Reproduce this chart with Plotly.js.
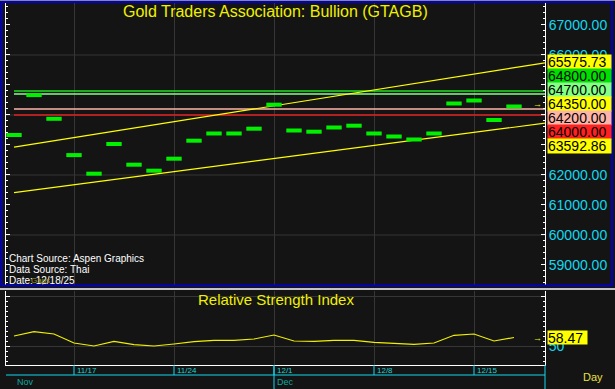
<!DOCTYPE html>
<html><head><meta charset="utf-8">
<script src="https://cdn.plot.ly/plotly-3.0.1.min.js"></script>
<style>html,body{margin:0;padding:0;background:#141414;}#chart{width:615px;height:389px;}</style>
</head><body><div id="chart"></div>
<script>
// ---- data ----
const dates = ['11/12','11/13','11/14','11/17','11/18','11/19','11/20','11/21','11/24','11/25','11/26','11/27','11/28',
               '12/1','12/2','12/3','12/4','12/5','12/8','12/9','12/10','12/11','12/12','12/15','12/16','12/17'];
const closes = [63400,64730,63940,62730,62110,63100,62410,62210,62610,63210,63450,63450,63610,
                64410,63550,63510,63650,63710,63450,63350,63250,63450,64450,64550,63900,64350];
const rsi = [60,64.3,62,53,50,54.7,51.3,50,52,54.3,55.7,55.7,57,
             61,55,54.7,55.7,55.7,53.7,52.7,51.7,53,60.7,62,55,58.47];
const levels = [64800, 64700, 64200, 64000];
const levelColors = ['#22e022','#86ff86','#ffb4a8','#e02020'];
const levelBg = ['#00e000','#86ff86','#ffb4a8','#ff2020'];
const upperTrend = [62930, 65575.73];   // value at first bar, value at last bar
const lowerTrend = [61415, 63592.86];
const priceGrid = [60000, 62000, 64000, 66000];
const weekTicks = ['11/17','11/24','12/1','12/8','12/15'];
const monthLabels = ['Nov','Dec'];
const monthFirst = ['11/12','12/1'];
const title = 'Gold Traders Association: Bullion (GTAGB)';
const rsiTitle = 'Relative Strength Index';
const sourceLines = ['Chart Source: Aspen Graphics','Data Source: Thai','Date: 12/18/25'];

// ---- layout geometry ----
const W = 615, H = 389, M = {l:6, r:70, t:3, b:24};
const plotW = W - M.l - M.r, plotH = H - M.t - M.b;
const px = x => (x - M.l) / plotW;
const py = y => (H - M.b - y) / plotH;
const xr = [-0.4, 26.55];
const yTopRange = [58333, 67733];
const yRsiRange = [31, 105];
const topDom = [py(285), 1];
const botDom = [0, py(291)];
const unitsPerPx = (yTopRange[1] - yTopRange[0]) / ((topDom[1] - topDom[0]) * plotH);
const barHalf = 2 * unitsPerPx;

const idx = dates.map((d, i) => i);
const lastI = dates.length - 1;
const close = closes[lastI];
const xEnd = xr[1];
const FONT = 'Liberation Sans, Arial, sans-serif';
const CYAN = '#10d8f0';
const YEL = '#f0f000';

const traces = [];
levels.forEach((lv, k) => {
  traces.push({x:[0, xEnd], y:[lv, lv], mode:'lines', line:{color:levelColors[k], width: k === 2 ? 1.6 : 1.3},
    xaxis:'x', yaxis:'y', hoverinfo:'skip'});
});
[upperTrend, lowerTrend].forEach(t => {
  const ext = t[0] + (t[1] - t[0]) * (xEnd / lastI);
  traces.push({x:[0, lastI, xEnd], y:[t[0], t[1], ext], mode:'lines', line:{color:'#ffff00', width:1.2},
    xaxis:'x', yaxis:'y', hoverinfo:'skip'});
});
traces.push({x: idx, y: closes.map(c => c - barHalf), mode:'markers',
  marker:{symbol:'line-ew', size:11, color:'#00f000', line:{color:'#00f000', width:4}},
  xaxis:'x', yaxis:'y'});
traces.push({x: idx, y: rsi, mode:'lines', line:{color:YEL, width:1.2}, xaxis:'x', yaxis:'y2'});

const shapes = [];
priceGrid.forEach(g => shapes.push({type:'line', xref:'paper', yref:'y', x0:0, x1:1, y0:g, y1:g,
  line:{color:'#363636', width:1}, layer:'below'}));
// frame / separators
shapes.push({type:'rect', xref:'paper', yref:'paper', x0:px(1.5), x1:px(612), y0:py(285.5), y1:py(2),
  line:{color:'#0000c8', width:2}});
shapes.push({type:'line', xref:'paper', yref:'paper', x0:px(0), x1:px(615), y0:py(0.5), y1:py(0.5),
  line:{color:'#8a8a8a', width:1}});
shapes.push({type:'line', xref:'paper', yref:'paper', x0:px(0), x1:px(615), y0:py(289), y1:py(289),
  line:{color:'#c4c4c4', width:2}});
// bottom date axis
weekTicks.forEach(w => {
  const i = dates.indexOf(w);
  shapes.push({type:'line', xref:'x', yref:'paper', x0:i, x1:i, y0:0, y1:py(375), line:{color:CYAN, width:1}});
});
shapes.push({type:'line', xref:'paper', yref:'paper', x0:0, x1:1, y0:py(375), y1:py(375), line:{color:CYAN, width:1}});
shapes.push({type:'line', xref:'paper', yref:'paper', x0:1, x1:1, y0:0, y1:py(389), line:{color:CYAN, width:1}});
monthFirst.forEach(m => {
  const i = dates.indexOf(m);
  if (i > 0) shapes.push({type:'line', xref:'x', yref:'paper', x0:i, x1:i, y0:0, y1:py(389), line:{color:CYAN, width:1}});
});

const ann = [];
ann.push({text:title, xref:'paper', yref:'paper', x:0.5, y:py(12), xanchor:'center', yanchor:'middle',
  showarrow:false, font:{family:FONT, size:16, color:YEL}});
ann.push({text:rsiTitle, xref:'paper', yref:'paper', x:0.5, y:py(299), xanchor:'center', yanchor:'middle',
  showarrow:false, font:{family:FONT, size:15, color:YEL}});
sourceLines.forEach((s, k) => ann.push({text:s, xref:'paper', yref:'paper', x:px(7), y:py(258 + 11*k),
  xanchor:'left', yanchor:'middle', showarrow:false, font:{family:FONT, size:10, color:'#ffffff'}}));
ann.push({text:'Gaps', xref:'paper', yref:'paper', x:px(29), y:py(280), xanchor:'left', yanchor:'middle',
  showarrow:false, font:{family:FONT, size:8, color:'#9a9a20'}});
ann.push({text:'Day', xref:'paper', yref:'paper', x:px(593), y:py(377), xanchor:'center', yanchor:'middle',
  showarrow:false, font:{family:FONT, size:11, color:'#e8e040'}});
weekTicks.forEach(w => ann.push({text:w, xref:'x', yref:'paper', x:dates.indexOf(w), xshift:1, y:py(370.5),
  xanchor:'left', yanchor:'middle', showarrow:false, font:{family:FONT, size:8, color:'#20d0d0'}}));
monthLabels.forEach((m, k) => ann.push({text:m, xref:'x', yref:'paper', x:dates.indexOf(monthFirst[k]), xshift:1,
  y:py(381.5), xanchor:'left', yanchor:'middle', showarrow:false, font:{family:FONT, size:9, color:'#10a8a0'}}));

// stacked value labels on the price axis
const labelItems = [
  {v:upperTrend[1], bg:'#ffff00'},
  {v:levels[0], bg:levelBg[0]}, {v:levels[1], bg:levelBg[1]},
  {v:close, bg:'#ffff00', anchor:true},
  {v:levels[2], bg:levelBg[2]}, {v:levels[3], bg:levelBg[3]},
  {v:lowerTrend[1], bg:'#ffff00'}
].sort((a, b) => b.v - a.v);
const ai = labelItems.findIndex(o => o.anchor);
labelItems.forEach((o, k) => ann.push({text:o.v.toFixed(2), xref:'paper', yref:'y', x:px(547), y:close,
  yshift:(ai - k) * 14, xanchor:'left', yanchor:'middle', width:63, height:14, align:'left', borderpad:0,
  bgcolor:o.bg, showarrow:false, font:{family:FONT, size:14, color:'#000000'}}));
ann.push({text:rsi[lastI].toFixed(2), xref:'paper', yref:'y2', x:px(547), y:rsi[lastI], xanchor:'left', yanchor:'middle',
  width:39, height:13, align:'left', borderpad:0, bgcolor:'#ffff00', showarrow:false,
  font:{family:FONT, size:14, color:'#000000'}});
ann.push({text:'→', xref:'paper', yref:'y', x:px(537), y:close, xanchor:'center', yanchor:'middle', showarrow:false,
  font:{family:FONT, size:9, color:YEL}});
ann.push({text:'→', xref:'paper', yref:'y2', x:px(537), y:rsi[lastI], xanchor:'center', yanchor:'middle', showarrow:false,
  font:{family:FONT, size:9, color:YEL}});

const layout = {
  width:W, height:H, margin:M, showlegend:false,
  paper_bgcolor:'#141414', plot_bgcolor:'#141414',
  xaxis:{range:xr, anchor:'y2', tickmode:'array', tickvals:weekTicks.map(w => dates.indexOf(w)),
    showticklabels:false, ticks:'', showgrid:true, gridcolor:'#363636', gridwidth:1, zeroline:false,
    showline:true, linecolor:'#ffffff', linewidth:1, fixedrange:true},
  yaxis:{domain:topDom, range:yTopRange, side:'right', anchor:'x', tickmode:'linear', tick0:0, dtick:1000,
    tickformat:'.2f', tickfont:{family:FONT, size:14, color:CYAN}, ticks:'inside', ticklen:4, tickcolor:'#ffffff',
    showline:true, linecolor:'#ffffff', linewidth:1, mirror:'ticks', showgrid:false, zeroline:false,
    minor:{tickmode:'linear', tick0:0, dtick:200, ticks:'inside', ticklen:2, tickcolor:'#ffffff', showgrid:false}},
  yaxis2:{domain:botDom, range:yRsiRange, side:'right', anchor:'x', tickmode:'array', tickvals:[50,100], ticktext:['50',''],
    tickfont:{family:FONT, size:14, color:CYAN}, ticks:'inside', ticklen:4, tickcolor:'#ffffff',
    showline:true, linecolor:'#ffffff', linewidth:1, mirror:'ticks', showgrid:true, gridcolor:'#363636', zeroline:false,
    minor:{tickmode:'linear', tick0:0, dtick:5, ticks:'inside', ticklen:2, tickcolor:'#ffffff', showgrid:false}},
  shapes:shapes, annotations:ann
};
Plotly.newPlot('chart', traces, layout, {staticPlot:true, displayModeBar:false});
</script></body></html>
